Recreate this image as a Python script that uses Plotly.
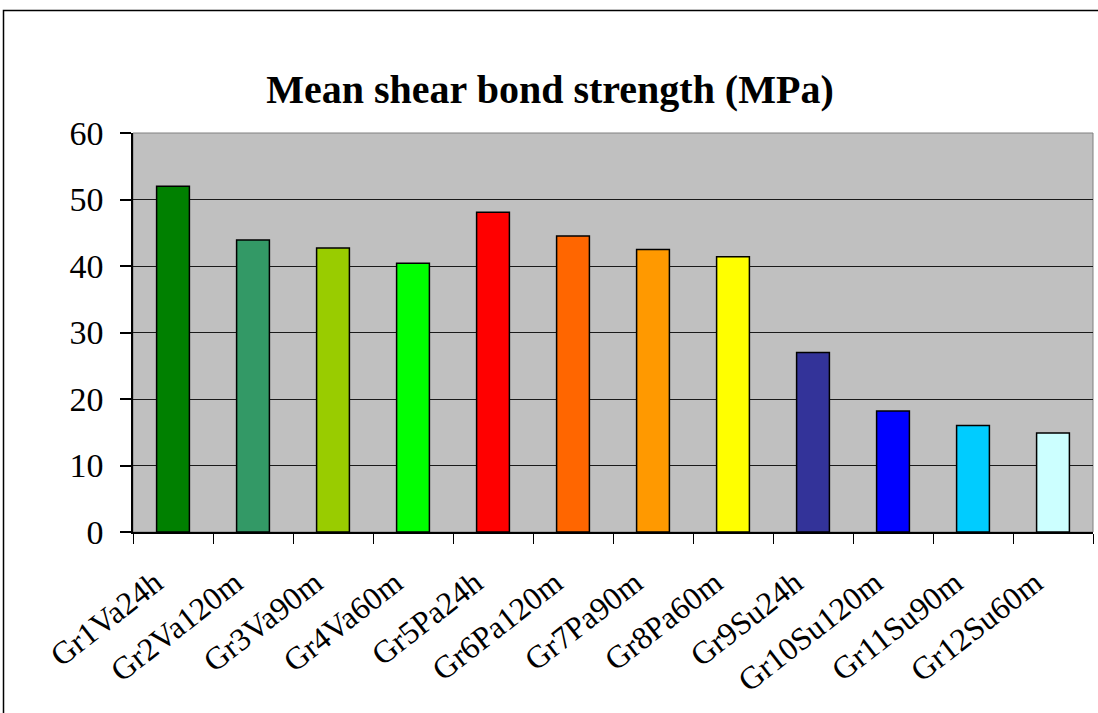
import plotly.graph_objects as go

categories = ["Gr1Va24h", "Gr2Va120m", "Gr3Va90m", "Gr4Va60m", "Gr5Pa24h", "Gr6Pa120m",
              "Gr7Pa90m", "Gr8Pa60m", "Gr9Su24h", "Gr10Su120m", "Gr11Su90m", "Gr12Su60m"]
values = [52.0, 43.9, 42.7, 40.4, 48.1, 44.5, 42.5, 41.4, 27.0, 18.2, 16.0, 14.9]
colors = ["#008000", "#339966", "#99CC00", "#00FF00", "#FF0000", "#FF6600",
          "#FF9900", "#FFFF00", "#333399", "#0000FF", "#00CCFF", "#CCFFFF"]
y_ticks = [0, 10, 20, 30, 40, 50, 60]
title_text = "Mean shear bond strength (MPa)"

W, H = 1098, 713
ML, MR, MT, MB = 133, 5, 133, 181
PW, PH = W - ML - MR, H - MT - MB

def px_x(x):
    return (x - ML) / PW

def px_y(y):
    return (H - MB - y) / PH

fig = go.Figure(go.Bar(
    x=categories, y=values,
    marker=dict(color=colors, line=dict(color="black", width=1.5)),
    width=0.41,
))

font_family = "Liberation Serif, Times New Roman, serif"

fig.update_layout(
    width=W, height=H,
    margin=dict(l=ML, r=MR, t=MT, b=MB),
    paper_bgcolor="white",
    plot_bgcolor="#C0C0C0",
    showlegend=False,
    title=dict(text="<b>" + title_text + "</b>", x=550 / W, xref="container",
               xanchor="center", y=1 - 89 / H, yref="container", yanchor="middle",
               font=dict(family=font_family, size=40, color="black")),
    font=dict(family=font_family, color="black"),
    bargap=0.59,
)

fig.update_yaxes(
    range=[0, 60], tickvals=y_ticks, showgrid=True, gridcolor="#1a1a1a", gridwidth=1,
    showline=True, linecolor="black", linewidth=1.5,
    ticks="outside", ticklen=11, tickcolor="black", tickwidth=1.5,
    tickfont=dict(family=font_family, size=34, color="black"),
    ticklabelstandoff=10, zeroline=False, fixedrange=True,
)
fig.update_xaxes(
    showline=True, linecolor="black", linewidth=1.5,
    ticks="outside", ticklen=10, tickcolor="black", tickwidth=1.2, tickson="boundaries",
    tickangle=-38, tickfont=dict(family=font_family, size=32, color="black"),
    ticklabelstandoff=18, ticklabelshift=-18,
    showgrid=False, fixedrange=True,
)

shapes = [
    dict(type="rect", xref="paper", yref="paper", x0=0, x1=1, y0=0, y1=1,
         line=dict(color="#808080", width=1), layer="below"),
    dict(type="rect", xref="paper", yref="paper",
         x0=px_x(3.5), x1=px_x(1102), y0=px_y(717), y1=px_y(10.5),
         line=dict(color="black", width=1.5)),
]
fig.update_layout(shapes=shapes)

fig.write_html("out.html", config={"displayModeBar": False},
               post_script="document.body.style.margin='0px';document.body.style.overflow='hidden';")
